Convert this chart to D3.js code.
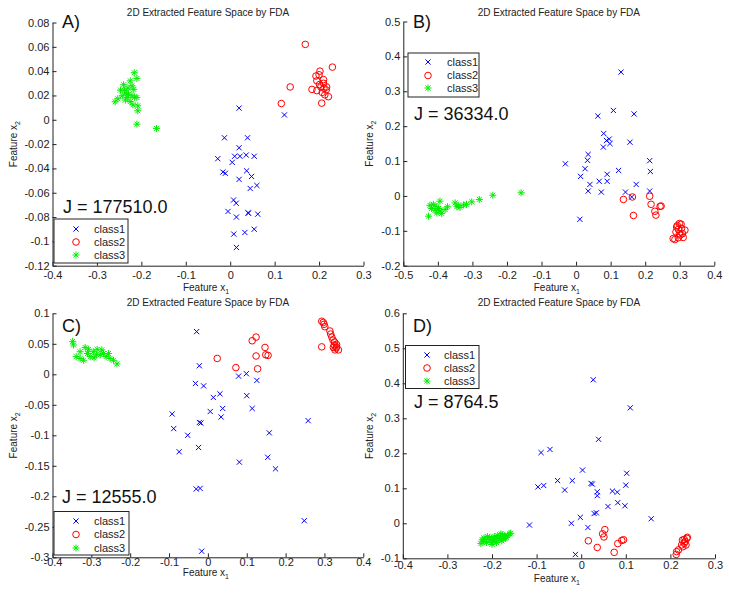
<!DOCTYPE html>
<html><head><meta charset="utf-8">
<script src="https://cdn.jsdelivr.net/npm/d3@7"></script>
<style>html,body{margin:0;padding:0;background:#fff;}svg{display:block;}</style>
</head><body>
<script>
// ---------- DATA ----------
const classNames = ["class1", "class2", "class3"];
const titleText = "2D Extracted Feature Space by FDA";
const panelLabels = ["A)", "B)", "C)", "D)"];
const jValues = ["J = 177510.0", "J = 36334.0", "J = 12555.0", "J = 8764.5"];

const A_xticks = [-0.4,-0.3,-0.2,-0.1,0,0.1,0.2,0.3];
const A_yticks = [-0.12,-0.1,-0.08,-0.06,-0.04,-0.02,0,0.02,0.04,0.06,0.08];
const B_xticks = [-0.5,-0.4,-0.3,-0.2,-0.1,0,0.1,0.2,0.3,0.4];
const B_yticks = [-0.2,-0.1,0,0.1,0.2,0.3,0.4,0.5];
const C_xticks = [-0.4,-0.3,-0.2,-0.1,0,0.1,0.2,0.3,0.4];
const C_yticks = [-0.3,-0.25,-0.2,-0.15,-0.1,-0.05,0,0.05,0.1];
const D_xticks = [-0.4,-0.3,-0.2,-0.1,0,0.1,0.2,0.3];
const D_yticks = [-0.1,0,0.1,0.2,0.3,0.4,0.5,0.6];

const A_class1 = [[0.020,0.0096],[0.122,0.004],[-0.013,-0.0148],[0.039,-0.0148],[0.020,-0.023],[-0.028,-0.032],[0.010,-0.030],[0.022,-0.030],[0.036,-0.029],[0.054,-0.030],[0.0045,-0.035],[-0.0165,-0.043],[-0.011,-0.044],[0.037,-0.042],[0.048,-0.0466],[0.020,-0.049],[0.060,-0.054],[0.045,-0.0565],[0.0075,-0.066],[0.0135,-0.0686],[-0.005,-0.0754],[0.040,-0.0765],[0.0412,-0.0768],[0.062,-0.0776],[0.014,-0.080],[0.054,-0.090],[0.033,-0.0927],[0.008,-0.094],[0.014,-0.105]];
const A_class2 = [[0.169,0.062],[0.230,0.0433],[0.135,0.027],[0.115,0.0134],[0.202,0.040],[0.193,0.036],[0.200,0.037],[0.195,0.032],[0.210,0.033],[0.184,0.025],[0.195,0.024],[0.204,0.027],[0.210,0.030],[0.211,0.026],[0.216,0.0245],[0.207,0.0225],[0.213,0.0205],[0.221,0.019],[0.206,0.0137],[0.201,0.029],[0.217,0.027]];
const A_class3 = [[-0.216,0.0387],[-0.210,0.034],[-0.225,0.032],[-0.240,0.0288],[-0.221,0.028],[-0.247,0.0244],[-0.230,0.026],[-0.217,0.025],[-0.234,0.022],[-0.221,0.0198],[-0.210,0.0184],[-0.253,0.0173],[-0.259,0.0148],[-0.236,0.0162],[-0.225,0.015],[-0.219,0.0123],[-0.208,0.0115],[-0.208,0.0074],[-0.210,-0.0036],[-0.166,-0.0071],[-0.229,0.021],[-0.243,0.0198],[-0.232,0.0184],[-0.215,0.0184],[-0.238,0.0244]];

const B_class1 = [[0.130,0.355],[0.108,0.245],[0.168,0.235],[0.063,0.229],[0.080,0.179],[0.088,0.159],[0.096,0.163],[0.098,0.150],[0.079,0.140],[0.156,0.154],[0.035,0.119],[0.033,0.102],[-0.031,0.092],[0.026,0.078],[0.013,0.056],[0.090,0.062],[0.123,0.073],[0.213,0.101],[0.215,0.070],[0.040,0.033],[0.067,0.042],[0.090,0.042],[0.174,0.033],[0.035,0.014],[0.073,0.011],[0.143,0.011],[0.213,0.014],[0.161,-0.003],[0.011,-0.067]];
const B_class2 = [[0.163,-0.003],[0.137,-0.010],[0.213,-0.001],[0.217,-0.024],[0.243,-0.030],[0.246,-0.029],[0.228,-0.044],[0.231,-0.055],[0.166,-0.056],[0.299,-0.079],[0.304,-0.081],[0.291,-0.089],[0.296,-0.096],[0.289,-0.103],[0.299,-0.108],[0.308,-0.108],[0.315,-0.098],[0.310,-0.119],[0.296,-0.120],[0.286,-0.125],[0.281,-0.122],[0.301,-0.112],[0.305,-0.093],[0.293,-0.085]];
const B_class3 = [[-0.159,0.009],[-0.241,0.002],[-0.280,-0.010],[-0.302,-0.017],[-0.317,-0.024],[-0.326,-0.026],[-0.341,-0.027],[-0.350,-0.020],[-0.336,-0.033],[-0.345,-0.031],[-0.394,-0.015],[-0.413,-0.024],[-0.418,-0.036],[-0.408,-0.041],[-0.398,-0.036],[-0.403,-0.049],[-0.389,-0.050],[-0.427,-0.058],[-0.379,-0.039],[-0.372,-0.031],[-0.423,-0.027],[-0.405,-0.030],[-0.394,-0.043]];

const C_class1 = [[-0.029,0.070],[-0.022,0.014],[-0.032,-0.015],[-0.011,-0.019],[0.014,-0.038],[0.031,-0.032],[0.006,-0.061],[0.038,-0.056],[0.034,-0.070],[0.079,-0.003],[0.099,0.001],[0.126,-0.010],[0.100,-0.035],[0.114,-0.056],[-0.092,-0.065],[-0.088,-0.089],[-0.022,-0.079],[-0.018,-0.080],[-0.052,-0.100],[-0.074,-0.127],[-0.024,-0.120],[0.158,-0.096],[0.258,-0.076],[0.081,-0.144],[0.154,-0.136],[0.174,-0.155],[-0.030,-0.188],[-0.020,-0.187],[0.248,-0.240],[-0.016,-0.290]];
const C_class2 = [[0.024,0.026],[0.072,0.011],[0.114,0.055],[0.124,0.061],[0.124,0.030],[0.147,0.044],[0.149,0.032],[0.155,0.031],[0.128,0.009],[0.293,0.087],[0.297,0.085],[0.299,0.082],[0.301,0.078],[0.314,0.071],[0.316,0.066],[0.319,0.061],[0.322,0.056],[0.293,0.045],[0.326,0.053],[0.325,0.048],[0.331,0.049],[0.323,0.044],[0.330,0.043],[0.336,0.040],[0.327,0.040],[0.331,0.045]];
const C_class3 = [[-0.348,0.054],[-0.346,0.048],[-0.339,0.029],[-0.329,0.037],[-0.316,0.044],[-0.310,0.034],[-0.320,0.023],[-0.303,0.029],[-0.295,0.037],[-0.285,0.041],[-0.277,0.032],[-0.293,0.027],[-0.269,0.034],[-0.262,0.029],[-0.252,0.026],[-0.256,0.034],[-0.243,0.023],[-0.234,0.017],[-0.273,0.040],[-0.307,0.041],[-0.329,0.026],[-0.287,0.032]];

const D_class1 = [[0.027,0.410],[0.110,0.330],[0.039,0.240],[-0.070,0.211],[-0.090,0.202],[0.003,0.152],[0.102,0.143],[-0.053,0.122],[-0.020,0.122],[0.022,0.114],[0.025,0.112],[-0.097,0.104],[-0.084,0.108],[0.100,0.109],[-0.037,0.095],[0.036,0.090],[0.070,0.092],[0.081,0.089],[0.036,0.079],[0.082,0.059],[0.098,0.050],[0.060,0.048],[0.034,0.030],[0.029,0.028],[-0.002,0.017],[0.157,0.013],[-0.116,-0.005],[-0.022,0.000],[0.015,-0.012],[-0.013,-0.089]];
const D_class2 = [[0.053,-0.018],[0.048,-0.030],[0.051,-0.039],[0.016,-0.050],[0.036,-0.069],[0.074,-0.083],[0.082,-0.058],[0.095,-0.047],[0.091,-0.049],[0.213,-0.089],[0.214,-0.081],[0.218,-0.076],[0.227,-0.048],[0.233,-0.052],[0.237,-0.043],[0.231,-0.046],[0.235,-0.062],[0.225,-0.062],[0.238,-0.040],[0.228,-0.067],[0.231,-0.057]];
const D_class3 = [[-0.225,-0.058],[-0.220,-0.052],[-0.215,-0.045],[-0.212,-0.055],[-0.205,-0.048],[-0.205,-0.040],[-0.200,-0.055],[-0.198,-0.045],[-0.195,-0.050],[-0.190,-0.042],[-0.188,-0.035],[-0.185,-0.048],[-0.180,-0.040],[-0.178,-0.050],[-0.175,-0.045],[-0.172,-0.036],[-0.170,-0.042],[-0.165,-0.035],[-0.160,-0.030],[-0.158,-0.028],[-0.210,-0.038],[-0.218,-0.042],[-0.195,-0.038],[-0.185,-0.040],[-0.180,-0.030],[-0.200,-0.060],[-0.222,-0.047],[-0.168,-0.040],[-0.190,-0.055],[-0.176,-0.033]];

// ---------- LAYOUT ----------
const W = 729, H = 595;
const FONT = "'Liberation Sans', Arial, sans-serif";
const colors = ["#0000ff", "#ff0000", "#00ee00"];

const panels = [
  {label: panelLabels[0], j: jValues[0], data: [A_class1, A_class2, A_class3], xt: A_xticks, yt: A_yticks,
   L: 52.5, R: 363.5, T: 22.5, B: 265.7, xpad: 5.5, xl: 291, ylx: 17, ty: 15.5,
   lab: [62, 28], jpos: [63, 213], leg: {x: 54, y: 219, w: 74, h: 44, rows: [229, 242, 255], mx: 76, tx: 94}},
  {label: panelLabels[1], j: jValues[1], data: [B_class1, B_class2, B_class3], xt: B_xticks, yt: B_yticks,
   L: 403.3, R: 714.3, T: 21.5, B: 265.7, xpad: 5.5, xl: 291, ylx: 373, ty: 15.5,
   lab: [413, 28], jpos: [414, 120], leg: {x: 408, y: 53, w: 71, h: 44, rows: [62, 75.5, 88], mx: 428, tx: 447}},
  {label: panelLabels[2], j: jValues[2], data: [C_class1, C_class2, C_class3], xt: C_xticks, yt: C_yticks,
   L: 52.5, R: 363.3, T: 313.3, B: 557.3, xpad: 0.5, xl: 576, ylx: 17, ty: 305.5,
   lab: [62, 332], jpos: [62, 503], leg: {x: 54, y: 511.5, w: 75, h: 43.5, rows: [521, 534.5, 548], mx: 76, tx: 94}},
  {label: panelLabels[3], j: jValues[3], data: [D_class1, D_class2, D_class3], xt: D_xticks, yt: D_yticks,
   L: 402.8, R: 715, T: 313.3, B: 558.3, xpad: 2.5, xl: 582, ylx: 373, ty: 305.5,
   lab: [413, 332], jpos: [414, 408], leg: {x: 405.5, y: 345.5, w: 73.5, h: 43, rows: [355, 368, 381], mx: 427, tx: 444}}
];

const svg = d3.select("body").append("svg").attr("width", W).attr("height", H)
  .attr("font-family", FONT);
svg.append("rect").attr("width", W).attr("height", H).attr("fill", "#fff");

const fmt = v => String(+v.toFixed(3));

function marker(g, k, x, y, col) {
  if (k === 0) {
    const r = 2.6;
    g.append("path").attr("d", `M${x-r},${y-r}L${x+r},${y+r}M${x-r},${y+r}L${x+r},${y-r}`)
      .attr("stroke", col).attr("stroke-width", 1).attr("fill", "none");
  } else if (k === 1) {
    g.append("circle").attr("cx", x).attr("cy", y).attr("r", 3.3)
      .attr("stroke", col).attr("stroke-width", 1).attr("fill", "none");
  } else {
    const r = 3.5, d = 2.5;
    g.append("path").attr("d", `M${x-r},${y}L${x+r},${y}M${x},${y-r}L${x},${y+r}M${x-d},${y-d}L${x+d},${y+d}M${x-d},${y+d}L${x+d},${y-d}`)
      .attr("stroke", col).attr("stroke-width", 1).attr("fill", "none");
  }
}

panels.forEach(p => {
  const xs = d3.scaleLinear().domain([p.xt[0], p.xt[p.xt.length-1]]).range([p.L, p.R]);
  const ys = d3.scaleLinear().domain([p.yt[0], p.yt[p.yt.length-1]]).range([p.B, p.T]);
  const g = svg.append("g");

  // points
  p.data.forEach((pts, k) => {
    const pg = g.append("g");
    pts.forEach(d => marker(pg, k, xs(d[0]), ys(d[1]), colors[k]));
  });

  // axes
  const ax = g.append("g").attr("transform", `translate(0,${p.B})`)
    .call(d3.axisBottom(xs).tickValues(p.xt).tickFormat(fmt).tickSizeInner(-4).tickSizeOuter(0).tickPadding(p.xpad));
  const ay = g.append("g").attr("transform", `translate(${p.L},0)`)
    .call(d3.axisLeft(ys).tickValues(p.yt).tickFormat(fmt).tickSizeInner(-4).tickSizeOuter(0).tickPadding(3));
  [ax, ay].forEach(a => {
    a.selectAll("text").attr("font-size", 11).attr("font-family", FONT).attr("fill", "#222");
    a.selectAll("line,path").attr("stroke", "#222");
  });

  // title
  g.append("text").attr("x", (p.L + p.R) / 2).attr("y", p.ty).attr("text-anchor", "middle")
    .attr("font-size", 10).attr("fill", "#222").text(titleText);

  // x label
  const xl = g.append("text").attr("x", (p.L + p.R) / 2 - 2).attr("y", p.xl).attr("text-anchor", "middle")
    .attr("font-size", 10).attr("fill", "#222");
  xl.append("tspan").text("Feature x");
  xl.append("tspan").attr("font-size", 7).attr("dy", 3).text("1");

  // y label
  const yl = g.append("text").attr("transform", `translate(${p.ylx},${(p.T + p.B) / 2}) rotate(-90)`)
    .attr("text-anchor", "middle").attr("font-size", 10).attr("fill", "#222");
  yl.append("tspan").text("Feature x");
  yl.append("tspan").attr("font-size", 7).attr("dy", 3).text("2");

  // panel label and J
  g.append("text").attr("x", p.lab[0]).attr("y", p.lab[1]).attr("font-size", 18).attr("fill", "#111").text(p.label);
  g.append("text").attr("x", p.jpos[0]).attr("y", p.jpos[1]).attr("font-size", 18).attr("fill", "#111").text(p.j);

  // legend
  const lg = g.append("g");
  lg.append("rect").attr("x", p.leg.x).attr("y", p.leg.y).attr("width", p.leg.w).attr("height", p.leg.h)
    .attr("fill", "#fff").attr("stroke", "#222").attr("stroke-width", 1);
  classNames.forEach((c, k) => {
    marker(lg, k, p.leg.mx, p.leg.rows[k], colors[k]);
    lg.append("text").attr("x", p.leg.tx).attr("y", p.leg.rows[k] + 3.8).attr("font-size", 11)
      .attr("fill", "#222").text(c);
  });
});
</script>
</body></html>
